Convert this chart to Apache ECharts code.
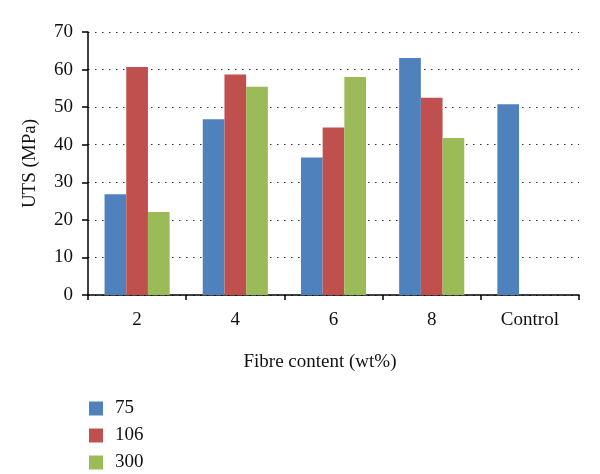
<!DOCTYPE html>
<html>
<head>
<meta charset="utf-8">
<script src="https://cdn.jsdelivr.net/npm/echarts@6/dist/echarts.min.js"></script>
<style>html,body{margin:0;padding:0;background:#fff;}#c{width:600px;height:474px;}</style>
</head>
<body>
<div id="c"></div>
<script>
var categories = ['2', '4', '6', '8', 'Control'];
var seriesNames = ['75', '106', '300'];
var s75 = [26.8, 46.8, 36.6, 63.1, 50.8];
var s106 = [60.7, 58.7, 44.6, 52.5, null];
var s300 = [22.1, 55.4, 58.0, 41.8, null];
var yTicks = [0, 10, 20, 30, 40, 50, 60, 70];
var colors = ['#4F81BD', '#C0504D', '#9BBB59'];

var font = 'Liberation Serif, DejaVu Serif, serif';
var chart = echarts.init(document.getElementById('c'), null, {renderer: 'canvas'});
var dataSets = [s75, s106, s300];
chart.setOption({
  animation: false,
  color: colors,
  grid: {left: 88, right: 21, top: 32, bottom: 179, containLabel: false},
  legend: {
    orient: 'vertical', left: 84, top: 394, height: 90, itemWidth: 14, itemHeight: 14, itemGap: 8,
    icon: 'rect', data: seriesNames,
    textStyle: {fontFamily: font, fontSize: 19, color: '#111', padding: [0, 0, 0, 7]}
  },
  xAxis: {
    type: 'category', data: categories,
    name: 'Fibre content (wt%)', nameLocation: 'middle', nameGap: 58,
    nameTextStyle: {fontFamily: font, fontSize: 19, color: '#111', padding: [0, 27, 0, 0]},
    axisLine: {lineStyle: {color: '#000', width: 1.5}},
    axisTick: {show: true, alignWithLabel: false, length: 5, lineStyle: {color: '#000', width: 1.5}},
    axisLabel: {fontFamily: font, fontSize: 19, color: '#111', margin: 16}
  },
  yAxis: {
    type: 'value', min: yTicks[0], max: yTicks[yTicks.length - 1], interval: 10,
    name: 'UTS (MPa)', nameLocation: 'middle', nameGap: 48,
    nameTextStyle: {fontFamily: font, fontSize: 19, color: '#111'},
    axisLine: {show: true, lineStyle: {color: '#000', width: 1.5}},
    axisTick: {show: true, length: 6, lineStyle: {color: '#000', width: 1.5}},
    axisLabel: {fontFamily: font, fontSize: 19, color: '#111', margin: 15},
    splitLine: {show: true, lineStyle: {color: '#333', width: 1, type: [1.5, 5.5]}}
  },
  series: seriesNames.map(function (n, i) {
    return {
      name: n, type: 'bar', data: dataSets[i], barWidth: 21.7, barGap: '0%',
      itemStyle: {color: colors[i]}
    };
  })
});
</script>
</body>
</html>
